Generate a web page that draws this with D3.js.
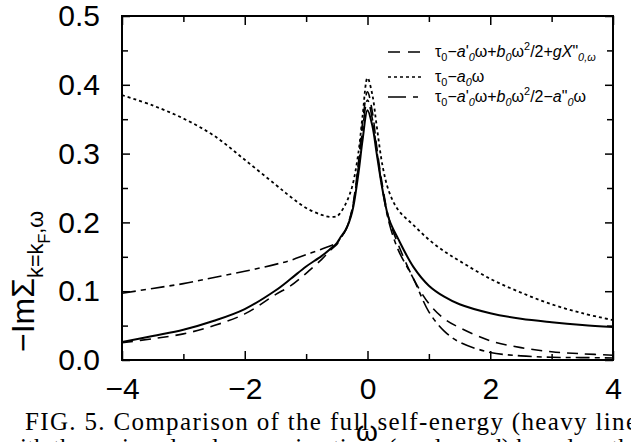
<!DOCTYPE html>
<html>
<head>
<meta charset="utf-8">
<script src="https://cdn.jsdelivr.net/npm/d3@7"></script>
<style>
  html, body { margin: 0; padding: 0; background: #fff; }
  svg { display: block; }
</style>
</head>
<body>
<svg id="chart" width="631" height="442"></svg>
<script>
// frequency grid (ω) shared by all curves
const omega = [-4, -3.5, -3, -2.5, -2, -1.5, -1.25, -1, -0.75, -0.6, -0.5, -0.45, -0.35, -0.25, -0.15, -0.08,
               0, 0.08, 0.15, 0.25, 0.35, 0.5, 0.75, 1, 1.25, 1.5, 2, 2.5, 3, 3.5, 4];

// full self-energy (heavy line)
const fullSigma = [0.026, 0.035, 0.044, 0.057, 0.074, 0.101, 0.118, 0.136, 0.151, 0.162, 0.170, 0.177, 0.190, 0.215, 0.270, 0.320,
                   0.363, 0.340, 0.300, 0.245, 0.205, 0.176, 0.135, 0.108, 0.092, 0.081, 0.068, 0.060, 0.055, 0.051, 0.048];
// τ0 − a'0ω + b0ω²/2 + gX"0,ω
const approxGX = [0.025, 0.031, 0.038, 0.050, 0.067, 0.095, 0.108, 0.126, 0.146, 0.160, 0.168, 0.175, 0.190, 0.220, 0.285, 0.345,
                  0.390, 0.360, 0.310, 0.250, 0.205, 0.168, 0.118, 0.082, 0.060, 0.047, 0.028, 0.018, 0.012, 0.009, 0.007];
// τ0 − a0ω
const approxLinear = [0.385, 0.370, 0.351, 0.326, 0.291, 0.255, 0.237, 0.221, 0.211, 0.208, 0.209, 0.213, 0.228, 0.252, 0.300, 0.355,
                      0.410, 0.385, 0.340, 0.280, 0.245, 0.218, 0.196, 0.175, 0.158, 0.144, 0.118, 0.098, 0.081, 0.068, 0.058];
// τ0 − a'0ω + b0ω²/2 − a"0ω
const approxA2 = [0.097, 0.104, 0.111, 0.120, 0.129, 0.139, 0.145, 0.153, 0.161, 0.166, 0.170, 0.176, 0.190, 0.218, 0.280, 0.335,
                  0.378, 0.350, 0.305, 0.245, 0.200, 0.160, 0.118, 0.070, 0.042, 0.026, 0.011, 0.006, 0.004, 0.0035, 0.003];

const xMajorTicks = [-4, -2, 0, 2, 4];
const xMinorTicks = [-3, -1, 1, 3];
const yMajorTicks = [0, 0.1, 0.2, 0.3, 0.4, 0.5];
const yMinorTicks = [0.05, 0.15, 0.25, 0.35, 0.45];

const svg = d3.select("#chart");
const FONT = "'Liberation Sans', Arial, Helvetica, sans-serif";
const SERIF = "'Liberation Serif', 'Times New Roman', serif";

const plotLeft = 122, plotRight = 613, plotTop = 16, plotBottom = 360;
const x = d3.scaleLinear().domain([-4, 4]).range([plotLeft, plotRight]);
const y = d3.scaleLinear().domain([0, 0.5]).range([plotBottom, plotTop]);

svg.append("defs").append("clipPath").attr("id", "plotClip")
  .append("rect").attr("x", plotLeft).attr("y", plotTop)
  .attr("width", plotRight - plotLeft).attr("height", plotBottom - plotTop);

// curves
const line = d3.line().x(d => x(d[0])).y(d => y(d[1])).curve(d3.curveCatmullRom.alpha(0.5));
const series = [
  { vals: approxLinear, dash: "3,3", width: 1.8 },
  { vals: approxGX, dash: "11,7", width: 1.6 },
  { vals: approxA2, dash: "14,5,5,5", width: 1.6 },
  { vals: fullSigma, dash: null, width: 2.0 }
];
const plot = svg.append("g").attr("clip-path", "url(#plotClip)");
series.forEach(s => {
  plot.append("path")
    .datum(omega.map((w, i) => [w, s.vals[i]]))
    .attr("d", line)
    .attr("fill", "none")
    .attr("stroke", "#000")
    .attr("stroke-width", s.width)
    .attr("stroke-dasharray", s.dash);
});

// axes with inward ticks on all four sides
function styleAxis(g) {
  g.select(".domain").remove();
  g.selectAll(".tick line").attr("stroke", "#000").attr("stroke-width", 1.5);
  g.selectAll("text").attr("font-family", FONT).attr("font-size", 30).attr("fill", "#000");
}
svg.append("g").attr("transform", `translate(0,${plotBottom})`)
  .call(d3.axisBottom(x).tickValues(xMajorTicks).tickSize(-9).tickPadding(18))
  .call(styleAxis);
svg.append("g").attr("transform", `translate(0,${plotBottom})`)
  .call(d3.axisBottom(x).tickValues(xMinorTicks).tickSize(-6).tickFormat(""))
  .call(styleAxis);
svg.append("g").attr("transform", `translate(0,${plotTop})`)
  .call(d3.axisTop(x).tickValues(xMajorTicks).tickSize(-9).tickFormat(""))
  .call(styleAxis);
svg.append("g").attr("transform", `translate(0,${plotTop})`)
  .call(d3.axisTop(x).tickValues(xMinorTicks).tickSize(-6).tickFormat(""))
  .call(styleAxis);
svg.append("g").attr("transform", `translate(${plotLeft},0)`)
  .call(d3.axisLeft(y).tickValues(yMajorTicks).tickSize(-8).tickPadding(22).tickFormat(d3.format(".1f")))
  .call(styleAxis);
svg.append("g").attr("transform", `translate(${plotLeft},0)`)
  .call(d3.axisLeft(y).tickValues(yMinorTicks).tickSize(-6).tickFormat(""))
  .call(styleAxis);
svg.append("g").attr("transform", `translate(${plotRight},0)`)
  .call(d3.axisRight(y).tickValues(yMajorTicks).tickSize(-8).tickFormat(""))
  .call(styleAxis);
svg.append("g").attr("transform", `translate(${plotRight},0)`)
  .call(d3.axisRight(y).tickValues(yMinorTicks).tickSize(-6).tickFormat(""))
  .call(styleAxis);

// frame
svg.append("rect").attr("x", plotLeft).attr("y", plotTop)
  .attr("width", plotRight - plotLeft).attr("height", plotBottom - plotTop)
  .attr("fill", "none").attr("stroke", "#000").attr("stroke-width", 2);

// rich text helper: segments of [text, kind]
function richText(sel, segs, base) {
  let off = 0;
  segs.forEach(([t, k]) => {
    let target = 0, size = base, italic = false;
    if (k.includes("sub")) { target = base * 0.28; size = base * 0.68; }
    if (k.includes("ssb")) { target = base * 0.5; size = base * 0.5; }
    if (k.includes("sup")) { target = -base * 0.45; size = base * 0.68; }
    if (k.includes("i")) italic = true;
    sel.append("tspan")
      .attr("dy", target - off)
      .attr("font-size", size)
      .attr("font-style", italic ? "italic" : "normal")
      .text(t);
    off = target;
  });
}

// legend
const legendRows = [
  { dash: "12,8", y: 52, segs: [["τ", "n"], ["0", "sub"], ["−", "n"], ["a", "i"], ["'", "n"], ["0", "subi"], ["ω+", "n"], ["b", "i"], ["0", "subi"], ["ω", "n"], ["2", "sup"], ["/2+", "n"], ["gX", "i"], ["\"", "n"], ["0,ω", "subi"]] },
  { dash: "3,3", y: 77, segs: [["τ", "n"], ["0", "sub"], ["−", "n"], ["a", "i"], ["0", "subi"], ["ω", "n"]] },
  { dash: "18,7,5,5", y: 97, segs: [["τ", "n"], ["0", "sub"], ["−", "n"], ["a", "i"], ["'", "n"], ["0", "subi"], ["ω+", "n"], ["b", "i"], ["0", "subi"], ["ω", "n"], ["2", "sup"], ["/2−", "n"], ["a", "i"], ["\"", "n"], ["0", "subi"], ["ω", "n"]] }
];
legendRows.forEach(r => {
  svg.append("line").attr("x1", 388).attr("x2", 422).attr("y1", r.y).attr("y2", r.y)
    .attr("stroke", "#000").attr("stroke-width", 1.6).attr("stroke-dasharray", r.dash);
  const t = svg.append("text").attr("x", 435).attr("y", r.y + 5)
    .attr("font-family", FONT).attr("font-size", 16).attr("fill", "#000");
  richText(t, r.segs, 16);
});

// y-axis title
const yt = svg.append("text")
  .attr("transform", "translate(34,352) rotate(-90)")
  .attr("font-family", FONT).attr("font-size", 32).attr("fill", "#000");
richText(yt, [["−ImΣ", "n"], ["k=k", "sub"], ["F", "ssb"], [",ω", "sub"]], 32);

// x-axis title
svg.append("text").attr("x", 367).attr("y", 441).attr("text-anchor", "middle")
  .attr("font-family", FONT).attr("font-size", 28).attr("fill", "#000").text("ω");

// caption beneath the figure
svg.append("text").attr("x", 25).attr("y", 430)
  .attr("font-family", SERIF).attr("font-size", 25).attr("fill", "#000")
  .attr("textLength", 612).attr("lengthAdjust", "spacing")
  .text("FIG. 5.  Comparison of the full self-energy (heavy line");
svg.append("text").attr("x", 2).attr("y", 456)
  .attr("font-family", SERIF).attr("font-size", 25).attr("fill", "#000")
  .attr("textLength", 640).attr("lengthAdjust", "spacing")
  .text("with the various level approximations (see legend) based on the");
</script>
</body>
</html>
